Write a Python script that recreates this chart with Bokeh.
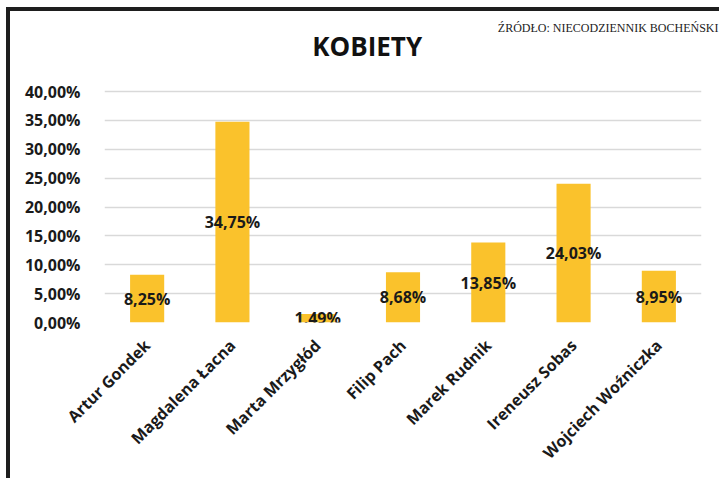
import math
from bokeh.plotting import figure
from bokeh.models import ColumnDataSource, Range1d, FactorRange, Title, Label, CustomJSTickFormatter
from bokeh.core.properties import value
from bokeh.embed import file_html
from bokeh.resources import INLINE

names = ["Artur Gondek", "Magdalena Łacna", "Marta Mrzygłód", "Filip Pach",
         "Marek Rudnik", "Ireneusz Sobas", "Wojciech Woźniczka"]
values = [8.25, 34.75, 1.49, 8.68, 13.85, 24.03, 8.95]
y_ticks = [0, 5, 10, 15, 20, 25, 30, 35, 40]
title_text = "KOBIETY"
source_text = "ŹRÓDŁO: NIECODZIENNIK BOCHEŃSKI"

labels = [f"{v:.2f}".replace(".", ",") + "%" for v in values]
src = ColumnDataSource(dict(name=names, val=values, mid=[v / 2 for v in values], lab=labels))

FONT = "Open Sans"
PX_PER_UNIT = 231 / 40.0          # 40% gridline sits 231 px above the 0% line
Y_END = 289 / PX_PER_UNIT          # frame top 289 px above the 0% line (room for the title)

p = figure(width=713, height=471, x_range=FactorRange(*names, range_padding=0),
           y_range=Range1d(0, Y_END), output_backend="svg", toolbar_location=None,
           min_border_left=94, min_border_right=22, min_border_top=22, min_border_bottom=160,
           title=None)
p.styles = {"margin-left": "6px", "margin-top": "7px",
            "border-left": "4px solid #1e1e1e", "border-top": "4px solid #1e1e1e"}
p.outline_line_color = None
p.background_fill_color = "white"
p.border_fill_color = "white"

p.vbar(x="name", top="val", width=0.4, source=src, color="#FAC22C", line_color=None)
p.text(x="name", y="mid", text="lab", source=src, text_align="center", text_baseline="middle",
       text_font=value(FONT), text_font_style="bold", text_font_size="16px", text_color="#1a1a1a")

p.xgrid.grid_line_color = None
p.ygrid.grid_line_color = "#d9d9d9"
p.ygrid.grid_line_width = 1.5

p.yaxis.ticker = y_ticks
p.yaxis.formatter = CustomJSTickFormatter(code="return tick.toFixed(2).replace('.', ',') + '%';")
p.yaxis.axis_line_color = None
p.yaxis.major_tick_line_color = None
p.yaxis.minor_tick_line_color = None
p.yaxis.major_label_standoff = 18
p.yaxis.major_label_text_font = FONT
p.yaxis.major_label_text_font_style = "bold"
p.yaxis.major_label_text_font_size = "16px"
p.yaxis.major_label_text_color = "#1a1a1a"

p.xaxis.axis_line_color = None
p.xaxis.major_tick_line_color = None
p.xaxis.major_label_orientation = math.pi / 4
p.xaxis.major_label_standoff = 14
p.xaxis.major_label_text_font = FONT
p.xaxis.major_label_text_font_style = "bold"
p.xaxis.major_label_text_font_size = "16px"
p.xaxis.major_label_text_color = "#1a1a1a"

# chart title inside the (extended) frame, above the 40% gridline
p.add_layout(Label(x=3.08, y=(322 - 45) / PX_PER_UNIT, text=title_text,
                   text_align="center", text_baseline="middle", text_font=FONT,
                   text_font_style="bold", text_font_size="26px", text_color="#111111"))

p.add_layout(Title(text=source_text, align="right", offset=-17, standoff=-2,
                   vertical_align="bottom",
                   text_font="Liberation Serif", text_font_style="normal",
                   text_font_size="12px", text_color="#222222"), "above")

open("out.html", "w").write(file_html(p, INLINE))
